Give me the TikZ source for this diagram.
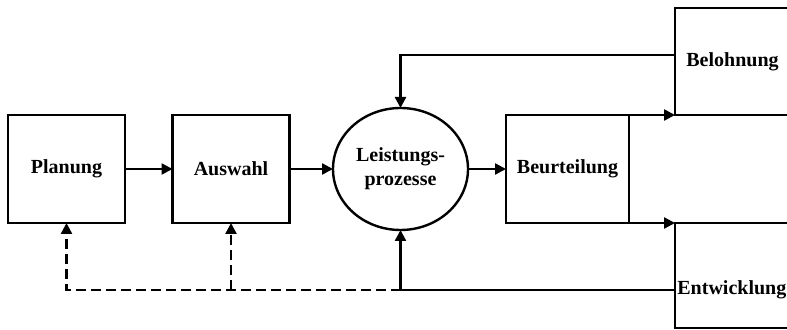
\documentclass[tikz,border=0pt]{standalone}
\usepackage{fontspec}
\setmainfont{Liberation Serif}
\usetikzlibrary{calc}
\usetikzlibrary{arrows.meta}
\usetikzlibrary{shapes.geometric}
\usetikzlibrary{positioning}
\tikzset{stage/.style={rectangle,draw=black,line width=1.2pt,outer sep=0pt,minimum width=58.5pt,minimum height=54pt,inner sep=2pt,font=\bfseries}}
\tikzset{process/.style={ellipse,draw=black,line width=1.2pt,outer sep=0pt,minimum width=67.5pt,minimum height=61pt,inner sep=0pt,align=center,font=\bfseries}}
\tikzset{flow/.style={line width=1.2pt,-{Triangle[length=5.5pt,width=5.5pt]}}}
\tikzset{feedback/.style={flow,dash pattern=on 5pt off 2.5pt}}

\begin{document}
\begin{tikzpicture}[x=0.5pt,y=-0.5pt]
\useasboundingbox (0,0) rectangle (787,330);

\node (plan) at (66.5,169) [stage] {Planung};
\node (ausw) at (231,169) [stage] {Auswahl};
\node (leist) at (400.5,169) [process] {Leistungs-\\prozesse};
\node (beurt) at (567.5,169) [stage,minimum width=61.5pt] {Beurteilung};
\node (belohn) at (732.5,61.5) [stage,minimum width=57.5pt,minimum height=53.5pt] {Belohnung};
\node (entw) at (732.5,275.5) [stage,minimum width=57.5pt,minimum height=52.5pt] {};
\node (entwtxt) at (677,290) [anchor=west,inner sep=0pt,font=\bfseries] {Entwicklung};

\coordinate (rew) at (belohn.west |- 0,55);
\coordinate (dev) at (entw.west |- 0,290);
\coordinate (join) at (leist.south |- dev);

\draw[flow] (plan) -- (ausw);
\draw[flow] (ausw) -- (leist);
\draw[flow] (leist) -- (beurt);
\draw[flow] (beurt.north east) -- (belohn.south west);
\draw[flow] (beurt.south east) -- (entw.north west);
\draw[flow] (rew) -| (leist.north);
\draw[flow] (dev) -| (leist.south);
\draw[feedback] (join) -| (plan.south);
\draw[feedback] (ausw.south |- join) -- (ausw.south);

\end{tikzpicture}
\end{document}
